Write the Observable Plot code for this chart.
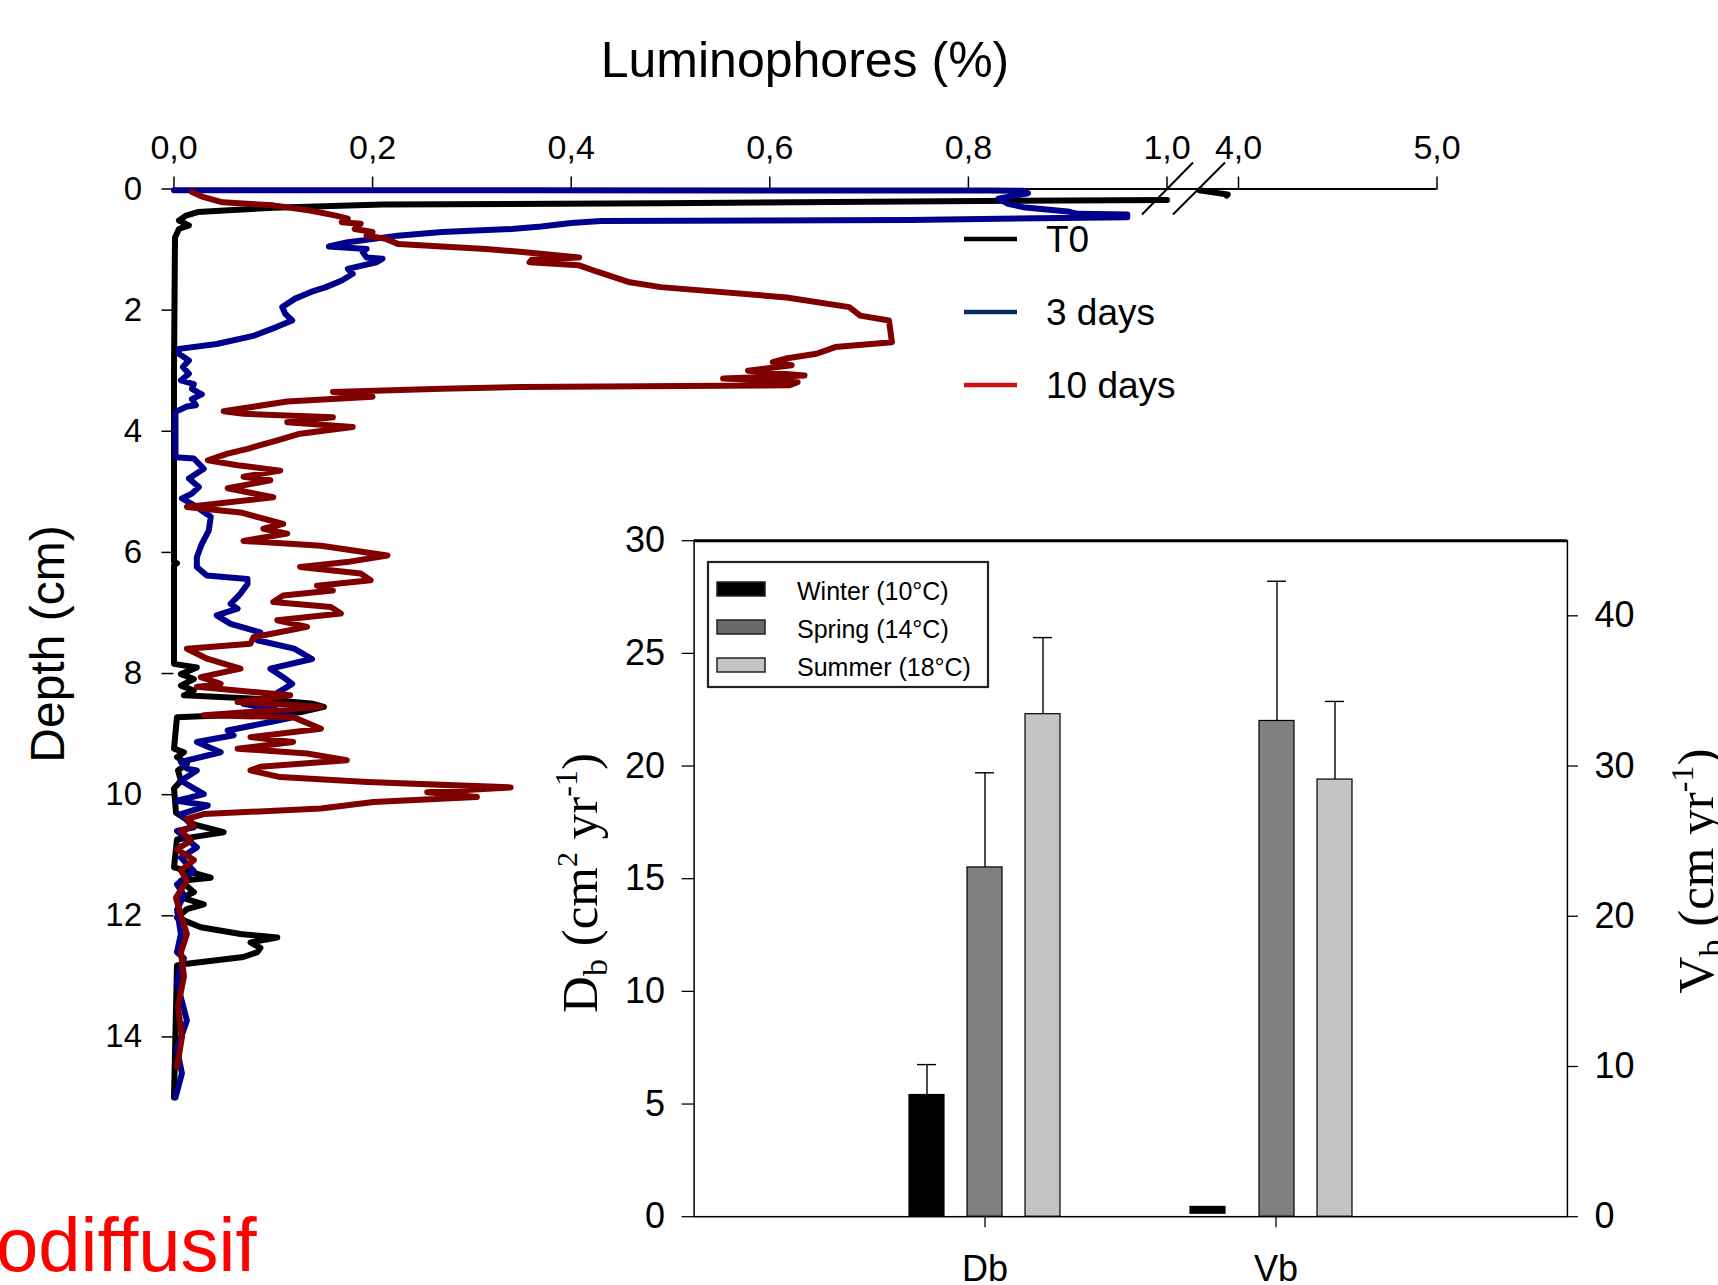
<!DOCTYPE html>
<html>
<head>
<meta charset="utf-8">
<script src="https://cdn.jsdelivr.net/npm/d3@7"></script>
<script src="https://cdn.jsdelivr.net/npm/@observablehq/plot@0.6"></script>
<style>
  body { margin: 0; background: #fff; font-family: "Liberation Sans", Arial, sans-serif; }
  #page { position: relative; width: 1718px; height: 1285px; overflow: hidden; background: #fff; }
  #page > svg { position: absolute; left: 0; top: 0; }
</style>
</head>
<body>
<div id="page"></div>
<script>
// ---------------- DATA ----------------
// Profiles: [depth (cm), luminophores (%)]; null = hidden by axis break
const seriesNames = ["T0", "3 days", "10 days"];
const seriesColors = ["#000000", "#00008c", "#800000"];
const legendColors = ["#000000", "#0c2a62", "#d01010"];

const profileT0 = [
  [0.02, 2.35], [0.06, 3.0], [0.09, 3.55], [0.11, 3.5], [0.14, null],
  [0.18, 1.0], [0.21, 0.70], [0.234, 0.49], [0.256, 0.21], [0.31, 0.10], [0.38, 0.024],
  [0.44, 0.012], [0.52, 0.005], [0.60, 0.015], [0.66, 0.005], [0.80, 0.001], [3.0, 0.0],
  [6.15, 0.0], [6.18, 0.003], [6.21, 0.0], [7.84, 0.0], [7.90, 0.023], [8.01, 0.007], [8.09, 0.02],
  [8.20, 0.007], [8.28, 0.02], [8.36, 0.01], [8.42, 0.087], [8.50, 0.14], [8.55, 0.151],
  [8.64, 0.127], [8.72, 0.003], [9.24, 0.0], [9.30, 0.01], [9.38, 0.003], [9.49, 0.013],
  [9.60, 0.004], [9.77, 0.007], [9.90, 0.0], [10.30, 0.002], [10.49, 0.02], [10.62, 0.05],
  [10.68, 0.027], [10.74, 0.003], [11.20, 0.0], [11.37, 0.037], [11.42, 0.007], [11.61, 0.02],
  [11.70, 0.008], [11.81, 0.03], [11.89, 0.013], [12.03, 0.003], [12.19, 0.027], [12.30, 0.067],
  [12.36, 0.104], [12.44, 0.077], [12.53, 0.087], [12.60, 0.084], [12.68, 0.07], [12.79, 0.013],
  [12.82, 0.003], [15.0, 0.0]
];

const profile3d = [
  [0.02, 0.0], [0.025, 0.82], [0.03, 0.855], [0.07, 0.86], [0.16, 0.83], [0.245, 0.84],
  [0.30, 0.855], [0.37, 0.90], [0.41, 0.91], [0.42, 0.96], [0.465, 0.96], [0.51, 0.74],
  [0.53, 0.43], [0.56, 0.40], [0.62, 0.37], [0.66, 0.34], [0.71, 0.27], [0.77, 0.225], [0.84, 0.194],
  [0.88, 0.175], [0.95, 0.156], [0.99, 0.194], [1.04, 0.19], [1.13, 0.194], [1.15, 0.21],
  [1.21, 0.204], [1.32, 0.175], [1.40, 0.18], [1.51, 0.169], [1.62, 0.153], [1.70, 0.138],
  [1.81, 0.122], [1.95, 0.109], [2.06, 0.112], [2.17, 0.119], [2.28, 0.103], [2.42, 0.081],
  [2.56, 0.043], [2.64, 0.005], [2.72, 0.005], [2.83, 0.015], [2.94, 0.009], [3.05, 0.015],
  [3.16, 0.007], [3.22, 0.02], [3.30, 0.018], [3.39, 0.028], [3.47, 0.018], [3.57, 0.022],
  [3.59, 0.013], [3.68, 0.0015], [4.43, 0.0015], [4.45, 0.02], [4.62, 0.03], [4.78, 0.015],
  [4.92, 0.025], [5.03, 0.018], [5.11, 0.008], [5.22, 0.02], [5.41, 0.037], [5.64, 0.035],
  [5.86, 0.028], [6.08, 0.023], [6.24, 0.023], [6.38, 0.033], [6.44, 0.074], [6.52, 0.074],
  [6.68, 0.067], [6.85, 0.057], [6.93, 0.064], [7.04, 0.043], [7.18, 0.057], [7.32, 0.087],
  [7.45, 0.084], [7.59, 0.121], [7.76, 0.139], [7.92, 0.097], [8.06, 0.11], [8.17, 0.119],
  [8.36, 0.10], [8.50, 0.07], [8.61, 0.104], [8.72, 0.121], [8.80, 0.097], [8.94, 0.054],
  [9.02, 0.06], [9.13, 0.023], [9.30, 0.047], [9.46, 0.007], [9.57, 0.013], [9.60, 0.023],
  [9.77, 0.007], [9.99, 0.03], [10.10, 0.003], [10.18, 0.034], [10.32, 0.007], [10.54, 0.02],
  [10.60, 0.003], [10.87, 0.023], [11.04, 0.007], [11.26, 0.02], [11.48, 0.003], [11.66, 0.01],
  [11.90, 0.003], [12.30, 0.007], [12.60, 0.003], [12.70, 0.01], [13.10, 0.003], [13.73, 0.013],
  [14.20, 0.003], [14.60, 0.008], [15.0, 0.0015]
];

const profile10d = [
  [0.05, 0.018], [0.135, 0.03], [0.22, 0.049], [0.27, 0.10], [0.355, 0.137], [0.44, 0.163],
  [0.49, 0.175], [0.55, 0.169], [0.575, 0.188], [0.66, 0.182], [0.71, 0.20], [0.77, 0.194],
  [0.82, 0.213], [0.91, 0.226], [0.99, 0.314], [1.04, 0.351], [1.13, 0.408], [1.17, 0.36],
  [1.21, 0.358], [1.26, 0.408], [1.37, 0.427], [1.54, 0.459], [1.62, 0.49], [1.79, 0.617],
  [1.95, 0.68], [2.09, 0.691], [2.17, 0.72], [2.53, 0.723], [2.61, 0.666], [2.72, 0.647],
  [2.80, 0.616], [2.86, 0.603], [2.91, 0.622], [3.0, 0.578], [3.08, 0.635], [3.13, 0.553],
  [3.19, 0.628], [3.24, 0.62], [3.27, 0.35], [3.30, 0.27], [3.35, 0.16], [3.43, 0.20],
  [3.51, 0.114], [3.67, 0.05], [3.71, 0.07], [3.77, 0.16], [3.85, 0.114], [3.93, 0.18],
  [4.04, 0.127], [4.15, 0.104], [4.29, 0.074], [4.37, 0.054], [4.48, 0.034], [4.56, 0.064],
  [4.65, 0.107], [4.75, 0.07], [4.81, 0.097], [4.94, 0.054], [5.09, 0.10], [5.25, 0.013],
  [5.34, 0.067], [5.53, 0.11], [5.61, 0.09], [5.69, 0.114], [5.81, 0.07], [5.89, 0.148],
  [6.05, 0.215], [6.16, 0.174], [6.24, 0.127], [6.35, 0.188], [6.46, 0.198], [6.55, 0.144],
  [6.63, 0.16], [6.71, 0.11], [6.82, 0.10], [6.90, 0.158], [7.01, 0.168], [7.12, 0.104],
  [7.23, 0.134], [7.40, 0.08], [7.51, 0.077], [7.59, 0.013], [7.76, 0.034], [7.92, 0.067],
  [8.06, 0.027], [8.17, 0.047], [8.22, 0.023], [8.36, 0.117], [8.47, 0.064], [8.55, 0.148],
  [8.69, 0.03], [8.72, 0.12], [8.91, 0.148], [9.05, 0.077], [9.13, 0.12], [9.24, 0.064],
  [9.32, 0.134], [9.43, 0.174], [9.54, 0.087], [9.60, 0.077], [9.71, 0.107], [9.79, 0.195],
  [9.88, 0.339], [9.96, 0.255], [10.04, 0.305], [10.12, 0.201], [10.23, 0.148], [10.32, 0.03],
  [10.40, 0.013], [10.51, 0.02], [10.60, 0.007], [10.76, 0.017], [10.90, 0.003], [11.08, 0.02],
  [11.25, 0.007], [11.42, 0.013], [11.70, 0.002], [12.00, 0.007], [12.30, 0.013], [12.60, 0.007],
  [13.00, 0.01], [13.50, 0.004], [14.00, 0.008], [14.50, 0.003]
];

const xTicks = [0, 0.2, 0.4, 0.6, 0.8, 1.0, 4.0, 5.0];
const depthTicks = [0, 2, 4, 6, 8, 10, 12, 14];

// Inset bar chart
const categories = ["Db", "Vb"];
const seasons = ["Winter (10°C)", "Spring (14°C)", "Summer (18°C)"];
const seasonColors = ["#000000", "#808080", "#c4c4c4"];
const dbValues = [5.4, 15.5, 22.3];
const dbErrors = [1.35, 4.2, 3.4];
const vbValues = [0.65, 33.0, 29.1];
const vbErrors = [0, 9.3, 5.2];
const dbTicks = [0, 5, 10, 15, 20, 25, 30];
const vbTicks = [0, 10, 20, 30, 40];

// ---------------- LAYOUT ----------------
const W = 1718, H = 1285;
const FONT = "'Liberation Sans', Arial, sans-serif";
const SERIF = "'Liberation Serif', 'Times New Roman', serif";
const page = document.getElementById("page");

const X0 = 173.5, X1 = 1166.5, X4 = 1238, X5 = 1436.5;
const Y0 = 188.5, Y15 = 1097;

const profiles = [profileT0, profile3d, profile10d];
const rows = profiles.flatMap((p, i) => p.map(([depth, value]) => ({series: seriesNames[i], depth, value})));

const main = Plot.plot({
  width: W, height: H,
  marginLeft: X0, marginRight: W - X5, marginTop: Y0, marginBottom: H - Y15,
  style: {background: "transparent", fontFamily: FONT, color: "black", overflow: "visible"},
  x: {type: "linear", domain: [0, 1, 4, 5], range: [X0, X1, X4, X5]},
  y: {domain: [0, 15], range: [Y0, Y15]},
  color: {domain: seriesNames, range: seriesColors},
  marks: [
    Plot.ruleY([0], {x1: 0, x2: 5, stroke: "black", strokeWidth: 2}),
    Plot.axisX(xTicks, {anchor: "top", tickSize: 13, tickPadding: 17, fontSize: 34, label: null,
      tickFormat: d => d.toFixed(1).replace(".", ","), strokeWidth: 1.5}),
    Plot.axisY(depthTicks, {anchor: "left", tickSize: 12, tickPadding: 20, fontSize: 33, label: null,
      tickFormat: d => String(d), strokeWidth: 1.5}),
    Plot.line(rows, {x: "value", y: "depth", z: "series", stroke: "series", strokeWidth: 6,
      strokeLinejoin: "round", strokeLinecap: "round"})
  ]
});
page.appendChild(main);

{
  const svg = d3.select(main);
  const xs = main.scale("x"), ys = main.scale("y");
  const bx = xs.apply(1.0), by = ys.apply(0);
  [[-24.5, 26.5], [6.5, 58.5]].forEach(([a, b]) => {
    svg.append("line").attr("x1", bx + a).attr("y1", by + 26).attr("x2", bx + b).attr("y2", by - 26)
      .attr("stroke", "black").attr("stroke-width", 2);
  });
  svg.append("text").attr("x", 805).attr("y", 77).attr("text-anchor", "middle")
    .attr("font-size", 50).attr("font-family", FONT).attr("fill", "black").text("Luminophores (%)");
  svg.append("text").attr("transform", "translate(64,644) rotate(-90)").attr("text-anchor", "middle")
    .attr("font-size", 48).attr("font-family", FONT).attr("fill", "black").text("Depth (cm)");
  const lg = svg.append("g").attr("text-anchor", "start");
  seriesNames.forEach((name, i) => {
    const y = 239 + i * 73;
    lg.append("line").attr("x1", 964).attr("x2", 1017).attr("y1", y).attr("y2", y)
      .attr("stroke", legendColors[i]).attr("stroke-width", 4.5);
    lg.append("text").attr("x", 1046).attr("y", y).attr("dy", "0.35em").attr("font-size", 37)
      .attr("text-anchor", "start").attr("font-family", FONT).attr("fill", "black").text(name);
  });
  svg.append("text").attr("x", -4).attr("y", 1271).attr("font-size", 76).attr("font-family", FONT)
    .attr("text-anchor", "start").attr("fill", "#ff0000").text("odiffusif");
}

// ---------------- INSET ----------------
const IL = 693.6, IR = 1566.9, IT = 540.2, IB = 1216.2;
const dbRows = seasons.map((s, i) => ({season: s, category: "Db", value: dbValues[i], err: dbErrors[i]}));
const vbRows = seasons.map((s, i) => ({season: s, category: "Vb", value: vbValues[i], err: vbErrors[i]}));
const dbOffsets = [-58, 0, 58];
const vbOffsets = [-68, 1, 59];
const barInset = 128, capInset = 136;

function barMarks(data, offsets, insetBottoms) {
  return seasons.flatMap((s, i) => {
    const d = data.filter(r => r.season === s);
    const e = d.filter(r => r.err > 0);
    return [
      Plot.ruleX(e, {x: "category", y1: "value", y2: r => r.value + r.err, dx: offsets[i], stroke: "black", strokeWidth: 1.4}),
      Plot.tickY(e, {x: "category", y: r => r.value + r.err, dx: offsets[i], insetLeft: capInset, insetRight: capInset, stroke: "black", strokeWidth: 1.4}),
      Plot.barY(d, {x: "category", y: "value", dx: offsets[i], fill: seasonColors[i], stroke: "black", strokeWidth: 1.2,
        insetLeft: barInset, insetRight: barInset, insetBottom: insetBottoms[i]})
    ];
  });
}

const common = {
  width: W, height: H,
  marginLeft: IL, marginRight: W - IR, marginTop: IT, marginBottom: H - IB,
  style: {background: "transparent", fontFamily: FONT, color: "black", overflow: "visible"}
};

const insetDb = Plot.plot({
  ...common,
  x: {type: "band", domain: categories, paddingInner: 0, paddingOuter: 0.5},
  y: {domain: [0, 30]},
  marks: [
    Plot.frame({stroke: "black", strokeWidth: 1.5}),
    Plot.ruleY([30], {stroke: "black", strokeWidth: 3}),
    Plot.axisY(dbTicks, {anchor: "left", tickSize: 12, tickPadding: 17, fontSize: 36, label: null, strokeWidth: 1.3}),
    Plot.axisX({anchor: "bottom", tickSize: 11, tickPadding: 28, fontSize: 36, label: null, strokeWidth: 1.3}),
    ...barMarks(dbRows, dbOffsets, [0, 0, 0])
  ]
});
page.appendChild(insetDb);

const insetVb = Plot.plot({
  ...common,
  x: {type: "band", domain: categories, paddingInner: 0, paddingOuter: 0.5, axis: null},
  y: {domain: [0, 45]},
  marks: [
    Plot.axisY(vbTicks, {anchor: "right", tickSize: 10, tickPadding: 17, fontSize: 36, label: null, strokeWidth: 1.3}),
    ...barMarks(vbRows, vbOffsets, [3, 0, 0])
  ]
});
page.appendChild(insetVb);

{
  const svg = d3.select(insetVb);
  const g = svg.append("g").attr("text-anchor", "start");
  g.append("rect").attr("x", 708).attr("y", 562).attr("width", 280).attr("height", 125)
    .attr("fill", "white").attr("stroke", "#222").attr("stroke-width", 2.2);
  seasons.forEach((s, i) => {
    const cy = 589 + i * 38;
    g.append("rect").attr("x", 717).attr("y", cy - 7).attr("width", 48).attr("height", 14)
      .attr("fill", i === 1 ? "#6a6a6a" : seasonColors[i]).attr("stroke", "#222").attr("stroke-width", 1.5);
    g.append("text").attr("x", 797).attr("y", cy + 2).attr("dy", "0.35em").attr("font-size", 25)
      .attr("text-anchor", "start").attr("font-family", FONT).attr("fill", "black").text(s);
  });
  function sciLabel(x, y, parts) {
    const t = svg.append("text").attr("transform", `translate(${x},${y}) rotate(-90)`)
      .attr("text-anchor", "middle").attr("font-family", SERIF).attr("font-size", 51).attr("fill", "black");
    parts.forEach(([txt, shift, size]) => {
      t.append("tspan").attr("dy", shift).attr("font-size", size).text(txt);
    });
  }
  sciLabel(597, 883, [["D", 0, 51], ["b", 10, 34], [" (cm", -10, 51], ["2", -20, 30], [" yr", 20, 51], ["-1", -20, 32], [")", 20, 51]]);
  sciLabel(1713, 871, [["V", 0, 51], ["b", 10, 34], [" (cm yr", -10, 51], ["-1", -20, 32], [")", 20, 51]]);
}
</script>
</body>
</html>
